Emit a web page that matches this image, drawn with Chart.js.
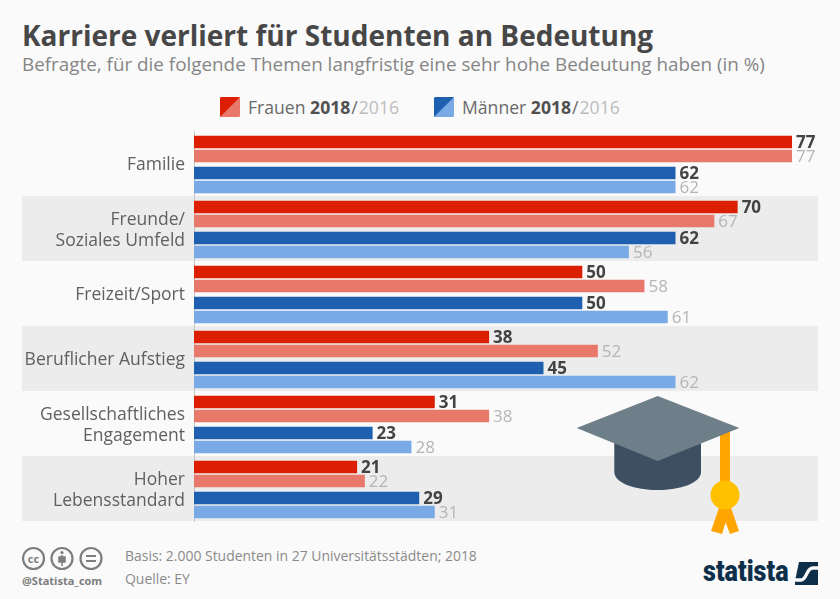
<!DOCTYPE html>
<html lang="de">
<head>
<meta charset="utf-8">
<title>Karriere verliert für Studenten an Bedeutung</title>
<script src="https://cdn.jsdelivr.net/npm/chart.js@4"></script>
<style>
    html, body { margin: 0; padding: 0; }
    body { width: 840px; height: 599px; overflow: hidden; background: #fafafa; position: relative; font-family: "Open Sans", sans-serif; }
    #wrap { position: absolute; left: 0; top: 120px; width: 840px; height: 410px; }
    .txt { position: absolute; white-space: nowrap; }
    #titel { left: 22px; top: 16px; font-size: 28px; font-weight: 700; color: #474747; }
    #sub { left: 22px; top: 51px; font-size: 18.85px; color: #868686; }
    .leg { top: 95px; font-size: 17.6px; color: #6a6a6a; }
    .leg b { color: #505050; }
    .leg i { font-style: normal; color: #bdbdbd; }
    .leg s { text-decoration: none; margin: 0 1px; }
    .foot { font-size: 13.95px; color: #8a8a8a; }
    svg { position: absolute; }
</style>
</head>
<body>
<div class="txt" id="titel">Karriere verliert für Studenten an Bedeutung</div>
<div class="txt" id="sub">Befragte, für die folgende Themen langfristig eine sehr hohe Bedeutung haben (in %)</div>

<svg style="left:220px;top:97px" width="21" height="21"><rect width="20" height="20" rx="1.5" fill="#e8796a"/><path d="M0 1.5Q0 0 1.5 0H20L0 20Z" fill="#dc1e03"/></svg>
<div class="txt leg" style="left:248px">Frauen <b>2018</b><s>/</s><i>2016</i></div>
<svg style="left:434px;top:97px" width="21" height="21"><rect width="20" height="20" rx="1.5" fill="#7aaae6"/><path d="M0 1.5Q0 0 1.5 0H20L0 20Z" fill="#1e5fb0"/></svg>
<div class="txt leg" style="left:462px">Männer <b>2018</b><s>/</s><i>2016</i></div>

<div id="wrap"><canvas id="chart" width="840" height="410"></canvas></div>

<!-- Doktorhut -->
<svg style="left:570px;top:390px" width="180" height="150" viewBox="570 390 180 150">
    <path d="M614.3 440H701V472C701 483 680 490 657.7 490C635 490 614.3 483 614.3 472Z" fill="#3d5062"/>
    <path d="M720 428H730V485H720Z" fill="#ffa400"/>
    <path d="M576.7 428L657.7 396L739.3 428L657.7 461Z" fill="#6e7f8a"/>
    <path d="M720 505L731 505L722 534L711 531ZM719 505L730 505L739 531L730 534Z" fill="#ffa400"/>
    <circle cx="725" cy="495" r="14.5" fill="#ffc000"/>
</svg>

<!-- CC Icons -->
<svg style="left:22px;top:546px" width="84" height="26" fill="none" stroke="#7d7d7d" stroke-width="2.2">
    <circle cx="11.5" cy="12.5" r="10.5"/><circle cx="40" cy="12.5" r="10.5"/><circle cx="69" cy="12.5" r="10.5"/>
    <path d="M64 10H74M64 15H74"/><path d="M40 9V20M37 11H43V16H37Z" fill="#7d7d7d" stroke-width="1.5"/><circle cx="40" cy="6.5" r="1.6" fill="#7d7d7d" stroke="none"/>
    <text x="11.5" y="16.5" fill="#7d7d7d" stroke="none" text-anchor="middle" font-family="Open Sans" font-weight="700" font-size="11">cc</text>
</svg>
<div class="txt" style="left:22px;top:573px;font-size:11px;font-weight:700;color:#7d7d7d;">@Statista_com</div>
<div class="txt foot" style="left:125px;top:546px">Basis: 2.000 Studenten in 27 Universitätsstädten; 2018</div>
<div class="txt foot" style="left:125px;top:569px">Quelle: EY</div>

<!-- Logo -->
<div class="txt" style="left:703px;top:553px;font-family:'Roboto','Liberation Sans',sans-serif;font-weight:900;font-size:30px;color:#0e2f4a;transform:scaleX(.84);transform-origin:left top;letter-spacing:0">statista</div>
<svg style="left:795px;top:562px" width="24" height="23">
    <path d="M4 0H23V23H0V19Z" fill="#0e2f4a"/>
    <path d="M0 18H6C12 18 11 6 18 6H23" fill="none" stroke="#fafafa" stroke-width="3.4"/>
</svg>

<script>
// Werte aus der Grafik
const kategorien = [
    "Familie",
    ["Freunde/", "Soziales Umfeld"],
    "Freizeit/Sport",
    "Beruflicher Aufstieg",
    ["Gesellschaftliches", "Engagement"],
    ["Hoher", "Lebensstandard"]
];
const frauen2018 = [77, 70, 50, 38, 31, 21];
const frauen2016 = [77, 67, 58, 52, 38, 22];
const maenner2018 = [62, 62, 50, 45, 23, 29];
const maenner2016 = [62, 56, 61, 62, 28, 31];
const streifenFarbe = "#ececec";

// graue Streifen hinter jeder zweiten Zeile
const streifen = {
    id: "streifen",
    beforeDraw(chart) {
        const { ctx, scales: { y } } = chart;
        const h = y.getPixelForValue(1) - y.getPixelForValue(0);
        ctx.save();
        ctx.fillStyle = streifenFarbe;
        kategorien.forEach((k, i) => {
            if (i % 2 === 1) ctx.fillRect(22, y.getPixelForValue(i) - h / 2, 796, h);
        });
        ctx.restore();
    }
};

// Lücke zwischen Frauen und Männern, Chart.js kennt nur gleiche Abstände
const luecke = {
    id: "luecke",
    afterDatasetsUpdate(chart) {
        chart.data.datasets.forEach((ds, i) => {
            chart.getDatasetMeta(i).data.forEach(bar => { bar.y += ds.versatz; });
        });
    }
};

// Zahlen am Balkenende
const werte = {
    id: "werte",
    afterDatasetsDraw(chart) {
        const { ctx } = chart;
        ctx.save();
        ctx.textBaseline = "middle";
        chart.data.datasets.forEach((ds, i) => {
            ctx.font = (ds.fett ? "700 " : "400 ") + "17px 'Open Sans'";
            ctx.fillStyle = ds.fett ? "#434343" : "#b5b5b5";
            chart.getDatasetMeta(i).data.forEach((bar, j) => {
                ctx.fillText(ds.data[j], bar.x + 4, bar.y + 1);
            });
        });
        ctx.restore();
    }
};

new Chart(document.getElementById("chart"), {
    type: "bar",
    data: {
        labels: kategorien,
        datasets: [
            { label: "Frauen 2018", data: frauen2018, backgroundColor: "#dc1e03", versatz: 1, fett: true },
            { label: "Frauen 2016", data: frauen2016, backgroundColor: "#e8796a", versatz: 0, fett: false },
            { label: "Männer 2018", data: maenner2018, backgroundColor: "#1e5fb0", versatz: 2, fett: true },
            { label: "Männer 2016", data: maenner2016, backgroundColor: "#7aaae6", versatz: 1, fett: false }
        ]
    },
    plugins: [streifen, luecke, werte],
    options: {
        indexAxis: "y",
        responsive: false,
        animation: false,
        layout: { padding: { left: 0, right: 0, top: 11, bottom: 9 } },
        datasets: { bar: { categoryPercentage: 0.923, barPercentage: 0.82, borderWidth: 0 } },
        plugins: { legend: { display: false }, tooltip: { enabled: false }, title: { display: false } },
        scales: {
            x: {
                display: false,
                min: 0,
                max: 83.18
            },
            y: {
                border: { display: true, color: "#c4c4c4", width: 1 },
                grid: { display: false },
                ticks: { color: "#606060", font: { family: "Open Sans", size: 17.5, lineHeight: 1.15 }, padding: 1, labelOffset: 2, autoSkip: false },
                afterFit(s) {
                    s.width = 194;
                    s.paddingTop = 0;
                    s.paddingBottom = 0;
                }
            }
        }
    }
});
</script>
</body>
</html>
